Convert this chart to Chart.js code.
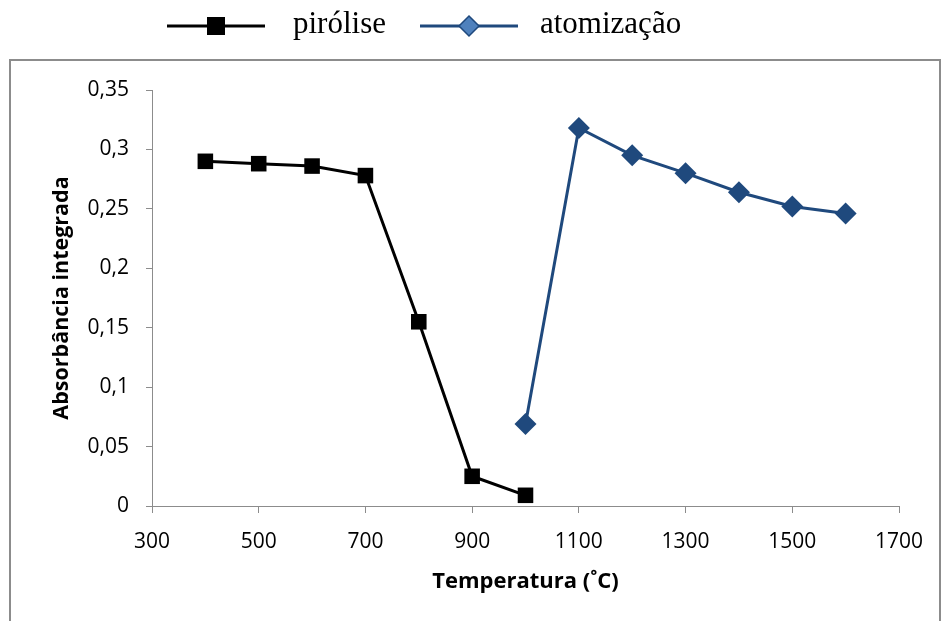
<!DOCTYPE html>
<html>
<head>
<meta charset="utf-8">
<script src="https://cdn.jsdelivr.net/npm/chart.js@4"></script>
<style>
  html, body { margin: 0; padding: 0; background: #fff; }
  #wrap { width: 943px; height: 621px; }
</style>
</head>
<body>
<div id="wrap"><canvas id="chart" width="943" height="621"></canvas></div>
<script>
var pyroTemps = [400, 500, 600, 700, 800, 900, 1000];
var pyroValues = [0.29, 0.288, 0.286, 0.278, 0.155, 0.025, 0.009];
var atomTemps = [1000, 1100, 1200, 1300, 1400, 1500, 1600];
var atomValues = [0.069, 0.318, 0.295, 0.28, 0.264, 0.252, 0.246];
var seriesNames = ['pirólise', 'atomização'];

function toPoints(xs, ys) {
  return xs.map(function (x, i) { return { x: x, y: ys[i] }; });
}

// outer frame + legend with line and marker, like the spreadsheet chart
var framePlugin = {
  id: 'frame',
  beforeDraw: function (chart) {
    var c = chart.ctx;
    c.save();
    c.fillStyle = '#fff';
    c.fillRect(0, 0, chart.width, chart.height);
    c.strokeStyle = '#8c8c8c';
    c.lineWidth = 2;
    c.strokeRect(10, 60, 930, 570);
    c.restore();
  },
  afterDraw: function (chart) {
    var c = chart.ctx;
    var items = [
      { x0: 167, x1: 265, text: seriesNames[0], tx: 293, ds: chart.data.datasets[0], legendFill: '#000' },
      { x0: 420, x1: 518, text: seriesNames[1], tx: 540, ds: chart.data.datasets[1], legendFill: '#4f81bd' }
    ];
    var y = 26;
    c.save();
    items.forEach(function (it) {
      c.strokeStyle = it.ds.borderColor;
      c.lineWidth = 3;
      c.beginPath();
      c.moveTo(it.x0, y);
      c.lineTo(it.x1, y);
      c.stroke();
      var mx = (it.x0 + it.x1) / 2;
      c.fillStyle = it.legendFill;
      c.strokeStyle = it.ds.borderColor;
      c.lineWidth = 1.5;
      if (it.ds.pointStyle === 'rect') {
        c.fillRect(mx - 9, y - 9, 18, 18);
      } else {
        c.beginPath();
        c.moveTo(mx, y - 10);
        c.lineTo(mx + 10, y);
        c.lineTo(mx, y + 10);
        c.lineTo(mx - 10, y);
        c.closePath();
        c.fill();
        c.stroke();
      }
      c.fillStyle = '#000';
      c.font = '31px "Liberation Serif", "Times New Roman", serif';
      c.textBaseline = 'middle';
      c.fillText(it.text, it.tx, y - 1);
    });
    c.restore();
  }
};

var ctx = document.getElementById('chart').getContext('2d');
var myChart = new Chart(ctx, {
  type: 'line',
  data: {
    datasets: [{
      label: seriesNames[0],
      data: toPoints(pyroTemps, pyroValues),
      borderColor: '#000000',
      backgroundColor: '#000000',
      borderWidth: 3,
      pointStyle: 'rect',
      pointRadius: 11,
      pointBorderWidth: 0,
      tension: 0
    }, {
      label: seriesNames[1],
      data: toPoints(atomTemps, atomValues),
      borderColor: '#1f497d',
      backgroundColor: '#1f497d',
      borderWidth: 3,
      pointStyle: 'rectRot',
      pointRadius: 11,
      pointBorderWidth: 0,
      tension: 0
    }]
  },
  options: {
    responsive: false,
    animation: false,
    layout: { padding: { top: 90, right: 44, bottom: 0, left: 0 } },
    plugins: {
      legend: { display: false },
      tooltip: { enabled: false }
    },
    scales: {
      x: {
        type: 'linear',
        min: 300,
        max: 1700,
        afterFit: function (s) { s.height = 115; },
        ticks: {
          stepSize: 200,
          color: '#000',
          font: { family: 'Open Sans', size: 21 },
          padding: 16,
          callback: function (v) { return String(v); }
        },
        grid: { drawOnChartArea: false, drawTicks: true, tickLength: 7, color: '#8c8c8c' },
        border: { color: '#8c8c8c', width: 1 },
        title: {
          display: true,
          text: 'Temperatura (˚C)',
          color: '#000',
          font: { family: 'Open Sans', size: 22, weight: 'bold' },
          padding: { top: 4, bottom: 26 }
        }
      },
      y: {
        min: 0,
        max: 0.35,
        afterFit: function (s) { s.width = 152; },
        ticks: {
          stepSize: 0.05,
          color: '#000',
          font: { family: 'Open Sans', size: 21 },
          padding: 17,
          callback: function (v) {
            return String(Math.round(v * 100) / 100).replace('.', ',');
          }
        },
        grid: { drawOnChartArea: false, drawTicks: true, tickLength: 6, color: '#8c8c8c' },
        border: { color: '#8c8c8c', width: 1 },
        title: {
          display: true,
          text: 'Absorbância integrada',
          color: '#000',
          font: { family: 'Open Sans', size: 21.5, weight: 'bold' },
          padding: { top: 49, bottom: 4 }
        }
      }
    }
  },
  plugins: [framePlugin]
});
</script>
</body>
</html>
